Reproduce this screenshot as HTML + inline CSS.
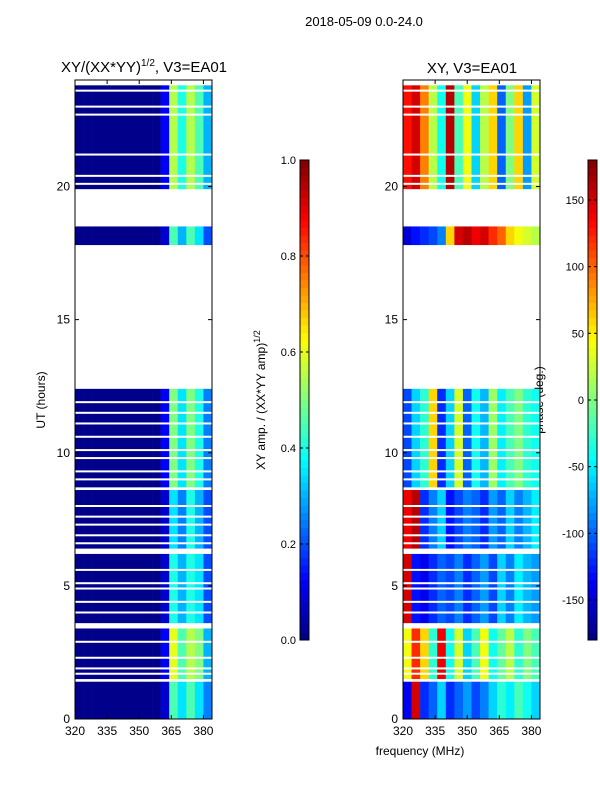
<!DOCTYPE html>
<html><head><meta charset="utf-8"><style>
body{margin:0;background:#fff;font-family:"Liberation Sans","DejaVu Sans",sans-serif}
svg text{font-family:"Liberation Sans","DejaVu Sans",sans-serif;fill:#000}
</style></head><body>
<svg id="fig" width="600" height="800" viewBox="0 0 600 800" xmlns="http://www.w3.org/2000/svg">
<text x="364" y="26" font-size="13" text-anchor="middle">2018-05-09 0.0-24.0</text>
<text x="144" y="72" font-size="15" text-anchor="middle">XY/(XX*YY)<tspan font-size="10" dy="-6">1/2</tspan><tspan dy="6">, V3=EA01</tspan></text>
<text x="472" y="73" font-size="15" text-anchor="middle">XY, V3=EA01</text>
<text x="420" y="755" font-size="12" text-anchor="middle">frequency (MHz)</text>
<text transform="translate(45,400) rotate(-90)" font-size="12" text-anchor="middle">UT (hours)</text>
<text transform="translate(265,400) rotate(-90)" font-size="12" text-anchor="middle">XY amp. / (XX*YY amp)<tspan font-size="9" dy="-5">1/2</tspan></text>
<text transform="translate(543,400) rotate(-90)" font-size="12" text-anchor="middle">phase (deg.)</text>
<g id="g"></g>
</svg>
<script>
// ---- data ----
const freqBins=[320,324,328,332,336,340,344,348,352,356,360,364,368,372,376,380,384];
const segStart=[0.0,1.5,3.6,6.4,8.7,17.8,19.9];
const segEnd=[1.4,3.4,6.2,8.6,12.4,18.5,23.8];
const gapLines=[1.7,1.9,2.3,2.9,4.0,4.4,4.9,5.1,5.6,6.6,6.9,7.3,7.6,8.0,9.0,9.3,9.8,10.1,10.6,11.1,11.5,11.9,20.1,20.4,21.2,22.7,23.0,23.6];
const ampVals=[
[.01,.01,.01,.01,.01,.01,.01,.01,.01,.01,.08,.45,.35,.45,.35,.25],
[.01,.01,.01,.01,.01,.01,.01,.01,.01,.01,.12,.6,.45,.55,.5,.3],
[.01,.01,.01,.01,.01,.01,.01,.01,.01,.01,.08,.4,.3,.4,.35,.2],
[.01,.01,.01,.01,.01,.01,.01,.01,.01,.01,.08,.35,.25,.4,.3,.2],
[.01,.01,.01,.01,.01,.01,.01,.01,.01,.01,.12,.5,.35,.5,.4,.25],
[.01,.01,.01,.01,.01,.01,.01,.01,.01,.01,.08,.45,.3,.45,.35,.2],
[.01,.01,.01,.01,.01,.01,.01,.01,.01,.01,.12,.55,.4,.55,.45,.3]];
const phaseVals=[
[-140,150,-120,-100,-60,-120,-100,-80,-110,-90,-60,-30,-50,-20,-40,-60],
[40,120,60,-30,140,-40,30,-60,-20,40,-40,-10,20,-30,0,-20],
[150,-130,-140,-120,-100,-110,-90,-120,-100,-80,-110,-60,-90,-50,-70,-80],
[140,160,-120,-90,-60,-130,-110,-90,-100,-120,-80,-100,-60,-90,-70,-50],
[-110,-60,-30,60,-120,-60,30,-100,-40,-70,10,-50,-20,0,-30,-40],
[-150,-130,-120,-110,-90,60,150,160,140,150,120,100,60,40,30,20],
[130,150,90,20,-40,160,-20,40,-60,20,60,-100,0,60,-80,30]];
const ampTicks=[0,0.2,0.4,0.6,0.8,1.0];
const phaseTicks=[-150,-100,-50,0,50,100,150];
const yTicks=[0,5,10,15,20];
const xTicks=[320,335,350,365,380];
// ---- helpers ----
const NS="http://www.w3.org/2000/svg",G=document.getElementById('g');
function mk(t,a,p){const e=document.createElementNS(NS,t);for(const k in a)e.setAttribute(k,a[k]);(p||G).appendChild(e);return e;}
function jet(v){v=Math.max(0,Math.min(1,v));const r=Math.min(1,Math.max(0,1.5-Math.abs(4*v-3))),g=Math.min(1,Math.max(0,1.5-Math.abs(4*v-2))),b=Math.min(1,Math.max(0,1.5-Math.abs(4*v-1)));return `rgb(${Math.round(r*255)},${Math.round(g*255)},${Math.round(b*255)})`;}
const Y0=719,Y1=80;
function ys(h){return Y0-(h/24)*(Y0-Y1);}
function panel(x0,x1,name,vals,norm){
 const xs=f=>x0+(f-320)/(384-320)*(x1-x0);
 const grp=mk('g',{});
 
 
 segStart.forEach((s,i)=>{for(let j=0;j<freqBins.length-1;j++){
  const c=mk('rect',{x:xs(freqBins[j]),y:ys(segEnd[i]),width:xs(freqBins[j+1])-xs(freqBins[j])+0.3,height:ys(segStart[i])-ys(segEnd[i]),fill:jet(norm(vals[i][j]))},grp);
  
  }});
 gapLines.forEach(h=>{const l=mk('rect',{x:x0,y:ys(h)-1,width:x1-x0,height:2,fill:'#fff'},grp);
  
  });
 const fr=mk('rect',{x:x0,y:Y1,width:x1-x0,height:Y0-Y1,fill:'none',stroke:'#000','stroke-width':1});
 
 
 yTicks.forEach(t=>{const y=ys(t);mk('line',{x1:x0,x2:x0+4,y1:y,y2:y,stroke:'#000'});mk('line',{x1:x1,x2:x1-4,y1:y,y2:y,stroke:'#000'});
  const tx=mk('text',{x:x0-5,y:y+4,'font-size':12,'text-anchor':'end'});tx.textContent=t;
  
  });
 xTicks.forEach(t=>{const x=xs(t);mk('line',{x1:x,x2:x,y1:Y0,y2:Y0-4,stroke:'#000'});mk('line',{x1:x,x2:x,y1:Y1,y2:Y1+4,stroke:'#000'});
  const tx=mk('text',{x:x,y:Y0+16,'font-size':12,'text-anchor':'middle'});tx.textContent=t;
  
  });
}
panel(75,212,'amp',ampVals,v=>v);
panel(403,540,'phase',phaseVals,v=>(v+180)/360);
function cbar(x,name,ticks,lo,hi){
 const top=160,bot=640,n=64;
 for(let i=0;i<n;i++){const r=mk('rect',{x:x,y:bot-(i+1)*(bot-top)/n,width:9,height:(bot-top)/n+0.5,fill:jet((i+0.5)/n)});
  
  }
 const f=mk('rect',{x:x,y:top,width:9,height:bot-top,fill:'none',stroke:'#000'});
 
 
 ticks.forEach(t=>{const y=bot-(t-lo)/(hi-lo)*(bot-top);mk('line',{x1:x,x2:x+3,y1:y,y2:y,stroke:'#000'});mk('line',{x1:x+9,x2:x+6,y1:y,y2:y,stroke:'#000'});
  const tx=mk('text',{x:x-4,y:y+4,'font-size':11,'text-anchor':'end'});tx.textContent=(name==='amp'?t.toFixed(1):t);
  
  });
}
cbar(300,'amp',ampTicks,0,1);
cbar(588,'phase',phaseTicks,-180,180);
</script>
</body></html>
